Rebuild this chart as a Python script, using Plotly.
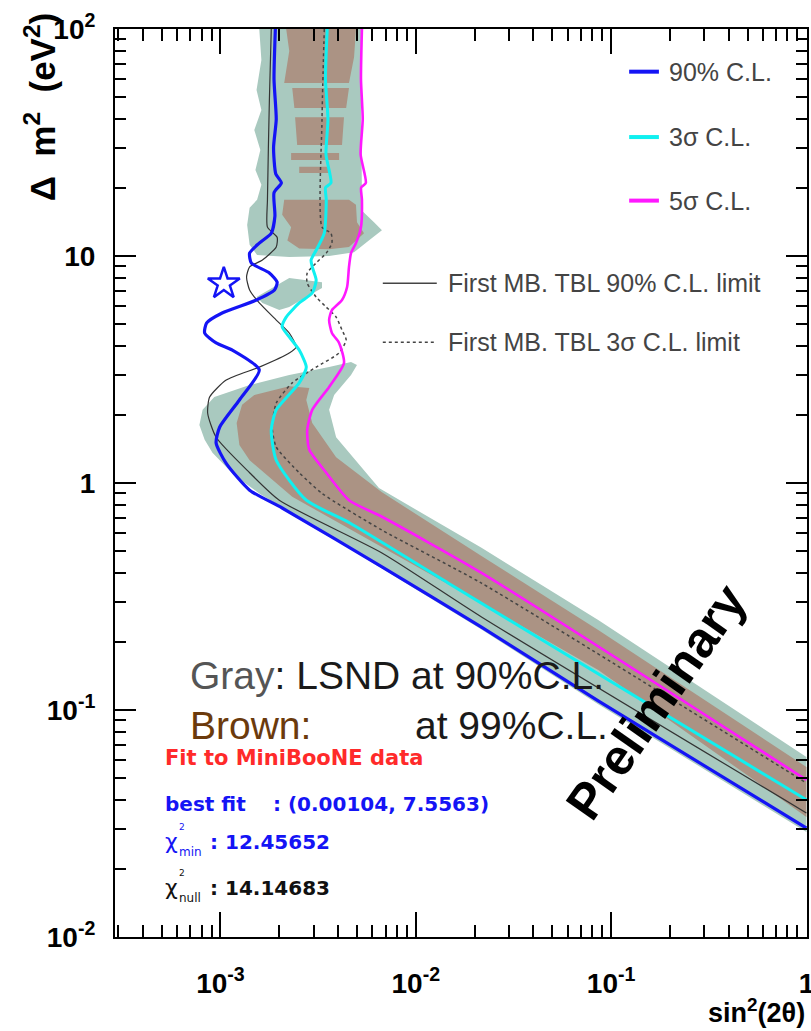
import plotly.graph_objects as go

# ---- exclusion / allowed-region contours: (sin^2(2theta), delta m^2 [eV^2]) ----
blue90_x = [1.91e-3, 1.88e-3, 1.93e-3, 1.87e-3, 1.92e-3, 2.05e-3, 1.88e-3, 1.90e-3, 1.82e-3, 1.58e-3,
            1.41e-3, 1.44e-3, 1.78e-3, 1.95e-3, 1.89e-3, 1.53e-3, 1.02e-3, 8.5e-4, 8.3e-4, 9.5e-4,
            1.15e-3, 1.58e-3, 1.25e-3, 9.9e-4, 9.5e-4, 1.07e-3, 1.41e-3, 2.07e-3, 6.71e-3, 2.17e-2,
            8.59e-2, 1.0]
blue90_y = [100, 60, 40, 30, 23, 21, 19, 15, 12.6, 11.4,
            10.3, 9.3, 8.42, 7.67, 7.08, 6.40, 5.61, 5.07, 4.58, 4.14,
            3.85, 3.15, 2.32, 1.76, 1.50, 1.22, 0.93, 0.776, 0.427, 0.232,
            0.1096, 0.0302]

cyan3s_x = [3.52e-3, 3.45e-3, 3.55e-3, 3.47e-3, 3.68e-3, 3.45e-3, 3.48e-3, 3.40e-3, 3.09e-3, 2.91e-3,
            2.95e-3, 3.09e-3, 2.95e-3, 2.53e-3, 2.17e-3, 2.07e-3, 2.25e-3, 2.53e-3, 2.75e-3, 2.53e-3,
            1.93e-3, 1.82e-3, 1.93e-3, 2.75e-3, 4.55e-3, 1.47e-2, 1.0]
cyan3s_y = [100, 60, 40, 28, 21, 20, 17.7, 12.6, 10.6, 9.6,
            8.95, 7.83, 6.87, 6.21, 5.38, 4.87, 4.40, 3.85, 3.24, 2.76,
            2.10, 1.71, 1.26, 0.84, 0.67, 0.362, 0.0402]

mag5s_x = [5.30e-3, 5.24e-3, 5.35e-3, 5.22e-3, 5.55e-3, 5.25e-3, 5.30e-3, 5.24e-3, 4.94e-3, 4.66e-3,
           4.55e-3, 4.45e-3, 4.19e-3, 3.72e-3, 3.60e-3, 3.72e-3, 4.05e-3, 4.29e-3, 3.60e-3, 2.95e-3,
           2.78e-3, 2.85e-3, 3.48e-3, 4.55e-3, 6.71e-3, 2.17e-2, 1.0]
mag5s_y = [100, 60, 40, 28, 21, 20, 17.7, 13.4, 11.4, 10.3,
           8.95, 7.30, 6.40, 5.78, 5.22, 4.58, 4.14, 3.38, 2.65, 2.10,
           1.71, 1.40, 1.11, 0.84, 0.71, 0.402, 0.0492]

tbl90_x = [1.82e-3, 1.78e-3, 1.74e-3, 1.74e-3, 1.95e-3, 1.93e-3, 1.64e-3, 1.41e-3, 1.36e-3, 1.41e-3,
           1.58e-3, 1.93e-3, 2.25e-3, 2.44e-3, 2.25e-3, 1.58e-3, 1.07e-3, 8.8e-4, 8.6e-4, 9.5e-4,
           1.41e-3, 2.00e-3, 6.71e-3, 2.17e-2, 1.0]
tbl90_y = [100, 48.6, 17.7, 13.4, 12.1, 10.96, 9.6, 8.95, 8.08, 7.08,
           6.21, 5.22, 4.58, 3.97, 3.74, 3.24, 2.84, 2.39, 2.03, 1.59,
           1.11, 0.84, 0.492, 0.257, 0.0352]

tbl3s_x = [3.40e-3, 3.31e-3, 3.31e-3, 3.68e-3, 3.72e-3, 3.48e-3, 3.13e-3, 2.78e-3, 2.78e-3, 3.09e-3,
           3.48e-3, 3.91e-3, 4.19e-3, 4.40e-3, 4.05e-3, 3.09e-3, 2.33e-3, 1.93e-3, 1.84e-3, 1.93e-3,
           2.53e-3, 3.31e-3, 6.71e-3, 2.17e-2, 1.0]
tbl3s_y = [100, 39.7, 13.4, 12.6, 11.4, 10.3, 9.42, 8.42, 7.60, 6.59,
           5.96, 5.38, 4.72, 4.27, 3.74, 3.24, 2.76, 2.25, 1.76, 1.44,
           1.11, 0.90, 0.62, 0.362, 0.0477]

# ---- LSND allowed regions (outer gray-green, inner brown); None separates islands ----
lsnd_gray_x = [1.58e-3, 1.62e-3, 1.53e-3, 1.62e-3, 1.49e-3, 1.60e-3, 1.51e-3, 1.62e-3, 1.54e-3, 1.41e-3,
               1.37e-3, 1.41e-3, 1.54e-3, 2.25e-3, 3.60e-3, 4.83e-3, 5.75e-3, 6.71e-3, 6.11e-3, 5.24e-3,
               5.30e-3, 5.24e-3, 5.30e-3, None,
               3.31e-3, 2.25e-3, 1.53e-3, 1.64e-3, 2.00e-3, 2.25e-3, 2.75e-3, 3.31e-3, None,
               4.66e-3, 3.60e-3, 2.25e-3, 1.41e-3, 9.3e-4, 8.1e-4, 7.8e-4, 8.3e-4, 9.1e-4, 1.18e-3,
               1.58e-3, 6.71e-3, 2.17e-2, 8.59e-2, 1.0, 1.0, 8.59e-2, 2.17e-2, 6.48e-3, 3.91e-3,
               3.60e-3, 3.82e-3, 4.66e-3, 5.0e-3]
lsnd_gray_y = [100, 73, 53.8, 44.0, 35.9, 29.3, 23.9, 20.6, 17.7, 16.3,
               13.7, 11.2, 10.1, 9.9, 10.0, 10.4, 11.7, 13.0, 14.1, 16.0,
               18.6, 50, 100, None,
               7.67, 8.0, 6.59, 6.21, 5.78, 5.96, 6.59, 7.23, None,
               3.41, 3.24, 2.99, 2.70, 2.39, 2.10, 1.80, 1.55, 1.36, 1.08,
               0.90, 0.42, 0.226, 0.106, 0.0290, 0.0621, 0.249, 0.518, 0.95, 1.59,
               2.10, 2.44, 2.99, 3.31]

lsnd_brown_x = [2.17e-3, 2.25e-3, 2.12e-3, 4.55e-3, 4.83e-3, 4.94e-3, None,
                2.33e-3, 4.55e-3, 4.40e-3, 2.39e-3, None,
                2.41e-3, 4.29e-3, 4.19e-3, 2.47e-3, None,
                2.30e-3, 4.05e-3, 4.05e-3, 2.30e-3, None,
                2.53e-3, 3.60e-3, 3.60e-3, 2.53e-3, None,
                2.12e-3, 2.07e-3, 2.30e-3, 2.20e-3, 2.53e-3, 3.60e-3, 4.55e-3, 4.94e-3, 5.43e-3, 5.0e-3,
                4.94e-3, 4.55e-3, None,
                2.25e-3, 1.49e-3, 1.29e-3, 1.21e-3, 1.25e-3, 1.41e-3, 2.33e-3, 6.71e-3, 2.17e-2, 8.59e-2,
                1.0, 1.0, 8.59e-2, 2.17e-2, 6.71e-3, 3.91e-3, 2.95e-3, 2.75e-3, 2.85e-3]
lsnd_brown_y = [100, 80, 57.8, 57.8, 75, 100, None,
                55.0, 55.0, 44.9, 44.9, None,
                40.9, 40.9, 30.8, 30.8, None,
                28.4, 28.4, 26.5, 26.5, None,
                24.7, 24.7, 23.2, 23.2, None,
                17.7, 15.2, 13.4, 11.7, 10.8, 10.7, 10.96, 11.7, 12.6, 14.1,
                16.8, 17.7, None,
                2.67, 2.44, 2.21, 1.84, 1.47, 1.26, 0.87, 0.523, 0.296, 0.150,
                0.0338, 0.0561, 0.225, 0.477, 0.91, 1.30, 1.84, 2.32, 2.62]

best_fit = (0.00104, 7.5563)
chi2_min = 12.45652
chi2_null = 14.14683

x_ticks = [1e-3, 1e-2, 1e-1, 1]
x_ticktext = ["10<sup>-3</sup>", "10<sup>-2</sup>", "10<sup>-1</sup>", "1"]
y_ticks = [1e-2, 1e-1, 1, 10, 100]
y_ticktext = ["10<sup>-2</sup>", "10<sup>-1</sup>", "1", "10", "10<sup>2</sup>"]

GRAY = "#a9c9bf"
BROWN = "#ab9384"
BLUE = "#1414f5"
CYAN = "#10f0f0"
MAGENTA = "#ff18ff"
SANS = "Liberation Sans, Arial, sans-serif"
WIDE = "DejaVu Sans, sans-serif"

fig = go.Figure()

fig.add_trace(go.Scatter(x=lsnd_gray_x, y=lsnd_gray_y, mode="lines", fill="toself",
                         fillcolor=GRAY, line=dict(width=0, color=GRAY), hoverinfo="skip"))
fig.add_trace(go.Scatter(x=lsnd_brown_x, y=lsnd_brown_y, mode="lines", fill="toself",
                         fillcolor=BROWN, line=dict(width=0, color=BROWN), hoverinfo="skip"))

fig.add_trace(go.Scatter(x=tbl90_x, y=tbl90_y, mode="lines",
                         line=dict(color="#333333", width=1.2, shape="spline", smoothing=0.6)))
fig.add_trace(go.Scatter(x=tbl3s_x, y=tbl3s_y, mode="lines",
                         line=dict(color="#444444", width=1.5, dash="3px,3px", shape="spline", smoothing=0.6)))
fig.add_trace(go.Scatter(x=blue90_x, y=blue90_y, mode="lines",
                         line=dict(color=BLUE, width=3.2, shape="spline", smoothing=0.6)))
fig.add_trace(go.Scatter(x=cyan3s_x, y=cyan3s_y, mode="lines",
                         line=dict(color=CYAN, width=3, shape="spline", smoothing=0.6)))
fig.add_trace(go.Scatter(x=mag5s_x, y=mag5s_y, mode="lines",
                         line=dict(color=MAGENTA, width=2.6, shape="spline", smoothing=0.6)))

fig.add_trace(go.Scatter(x=[best_fit[0]], y=[best_fit[1]], mode="markers",
                         marker=dict(symbol="star-open", size=24, color=BLUE,
                                     line=dict(color=BLUE, width=2.5))))

minor_x = [m * 10.0 ** e for e in range(-4, 0) for m in range(2, 10)]
minor_y = [m * 10.0 ** e for e in range(-2, 2) for m in range(2, 10)]

axis_common = dict(type="log", showline=True, linecolor="black", linewidth=2, mirror="allticks",
                   ticks="inside", tickcolor="black", tickwidth=1.5, showgrid=False, zeroline=False,
                   tickmode="array", ticklabeloverflow="allow", automargin=False,
                   tickfont=dict(family=SANS, size=28, color="black", weight="bold"))

fig.update_xaxes(**axis_common, range=[-3.54, 0.003], tickvals=x_ticks, ticktext=x_ticktext,
                 ticklen=25, ticklabelstandoff=20,
                 minor=dict(tickmode="array", tickvals=minor_x, ticks="inside", ticklen=12,
                            tickcolor="black", tickwidth=1.5))
fig.update_yaxes(**axis_common, range=[-2, 2], tickvals=y_ticks, ticktext=y_ticktext,
                 ticklen=21, ticklabelstandoff=12,
                 minor=dict(tickmode="array", tickvals=minor_y, ticks="inside", ticklen=11,
                            tickcolor="black", tickwidth=1.5))

# ---- legend drawn as paper-space line samples with labels ----
legend_font = dict(family=SANS, size=25, color="#444444")
shapes = []
ann = []
for yv, col, lab in [(0.953, BLUE, "90% C.L."), (0.881, CYAN, "3σ C.L."), (0.811, MAGENTA, "5σ C.L.")]:
    shapes.append(dict(type="line", xref="paper", yref="paper", x0=0.743, x1=0.786, y0=yv, y1=yv,
                       line=dict(color=col, width=4)))
    ann.append(dict(xref="paper", yref="paper", x=0.797, y=yv, text=lab, showarrow=False,
                    xanchor="left", yanchor="middle", font=legend_font))
for yv, dash, lab in [(0.720, "solid", "First MB. TBL 90% C.L. limit"),
                      (0.655, "3px,3px", "First MB. TBL 3σ C.L. limit")]:
    shapes.append(dict(type="line", xref="paper", yref="paper", x0=0.387, x1=0.465, y0=yv, y1=yv,
                       line=dict(color="#444444", width=1.5, dash=dash)))
    ann.append(dict(xref="paper", yref="paper", x=0.478, y=yv, text=lab, showarrow=False,
                    xanchor="left", yanchor="middle", font=legend_font))

big = dict(family=SANS, size=39, color="#1a1a1a")
ann += [
    dict(xref="paper", yref="paper", x=0.105, y=0.288, showarrow=False, xanchor="left", yanchor="middle",
         text="<span style='color:#555555'>Gray</span>: LSND at 90%C.L.", font=big),
    dict(xref="paper", yref="paper", x=0.105, y=0.233, showarrow=False, xanchor="left", yanchor="middle",
         text="Brown:", font=dict(big, color="#6b3a0c")),
    dict(xref="paper", yref="paper", x=0.430, y=0.233, showarrow=False, xanchor="left", yanchor="middle",
         text="at 99%C.L.", font=big),
]

info = dict(family=WIDE, size=20, weight="bold")
ann += [
    dict(xref="paper", yref="paper", x=0.069, y=0.197, showarrow=False, xanchor="left", yanchor="middle",
         text="Fit to MiniBooNE data", font=dict(info, size=21, color="#ff2a2a")),
    dict(xref="paper", yref="paper", x=0.069, y=0.146, showarrow=False, xanchor="left", yanchor="middle",
         text="best fit", font=dict(info, color=BLUE)),
    dict(xref="paper", yref="paper", x=0.226, y=0.146, showarrow=False, xanchor="left", yanchor="middle",
         text=f": ({best_fit[0]:.5f}, {best_fit[1]:.4f})", font=dict(info, color=BLUE)),
]
for yv, sub, val, col in [(0.105, "min", chi2_min, BLUE), (0.054, "null", chi2_null, "#111111")]:
    ann += [
        dict(xref="paper", yref="paper", x=0.069, y=yv, showarrow=False, xanchor="left", yanchor="middle",
             text="χ", font=dict(family=WIDE, size=22, color=col)),
        dict(xref="paper", yref="paper", x=0.089, y=yv + 0.016, showarrow=False, xanchor="left",
             yanchor="middle", text="2", font=dict(family=WIDE, size=9, color=col)),
        dict(xref="paper", yref="paper", x=0.089, y=yv - 0.011, showarrow=False, xanchor="left",
             yanchor="middle", text=sub, font=dict(family=WIDE, size=12, color=col)),
        dict(xref="paper", yref="paper", x=0.135, y=yv, showarrow=False, xanchor="left", yanchor="middle",
             text=f": {val:.5f}", font=dict(info, color=col)),
    ]

ann += [
    dict(xref="paper", yref="paper", x=0.782, y=0.259, showarrow=False, textangle=-55,
         xanchor="center", yanchor="middle",
         text="Preliminary", font=dict(family=SANS, size=50, color="black", weight="bold")),
    dict(xref="paper", yref="paper", x=-0.108, y=0.914, showarrow=False, textangle=-90,
         xanchor="center", yanchor="middle",
         text="Δ\u00a0\u00a0m<sup>2</sup>\u00a0\u00a0(eV<sup>2</sup>)",
         font=dict(family=SANS, size=35, color="black", weight="bold")),
    dict(xref="paper", yref="paper", x=1.0, y=-0.082, showarrow=False, xanchor="right", yanchor="middle",
         text="sin<sup>2</sup>(2θ)", font=dict(family=SANS, size=27, color="black", weight="bold")),
]

fig.update_layout(width=811, height=1031, margin=dict(l=115, r=4, t=29, b=94, autoexpand=False),
                  paper_bgcolor="white", plot_bgcolor="white", showlegend=False,
                  shapes=shapes, annotations=ann)

fig.write_html("out.html")
